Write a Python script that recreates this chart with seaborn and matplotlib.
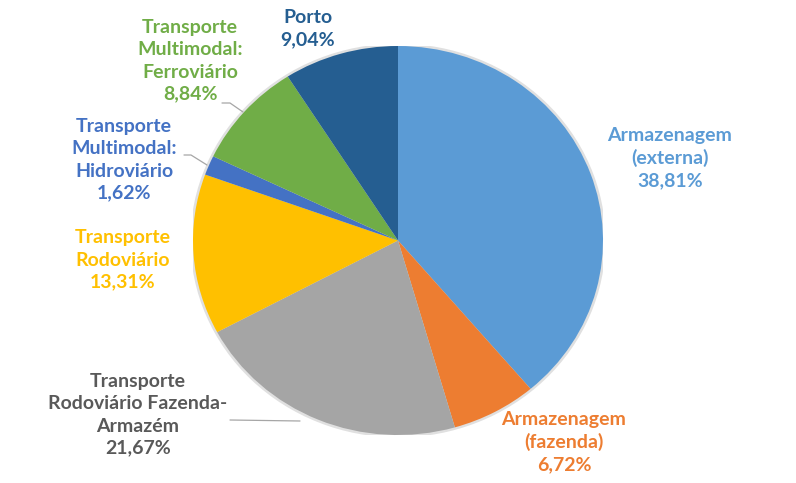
import matplotlib
matplotlib.use("Agg")
import matplotlib.pyplot as plt
import seaborn as sns
from matplotlib.patches import Ellipse

# data
categories = [
    "Armazenagem\n(externa)",
    "Armazenagem\n(fazenda)",
    "Transporte\nRodoviário Fazenda-\nArmazém",
    "Transporte\nRodoviário",
    "Transporte\nMultimodal:\nHidroviário",
    "Transporte\nMultimodal:\nFerroviário",
    "Porto",
]
shares = [38.81, 6.72, 21.67, 13.31, 1.62, 8.84, 9.04]
pct_labels = ["38,81%", "6,72%", "21,67%", "13,31%", "1,62%", "8,84%", "9,04%"]

colors = ["#5B9BD5", "#ED7D31", "#A5A5A5", "#FFC000", "#4472C4", "#70AD47", "#255E91"]
text_colors = ["#5B9BD5", "#ED7D31", "#595959", "#FFC000", "#4472C4", "#70AD47", "#255E91"]

# label centres in pixel coords of the 796x483 image
label_px = [(670, 158), (564, 442), (138, 415), (123, 260), (124, 160), (190, 61), (308, 29)]

sns.set_theme(style="white")
plt.rcParams["font.family"] = ["Lato", "DejaVu Sans"]

W, H = 796, 483
fig = plt.figure(figsize=(W / 100, H / 100), dpi=100)

# pie bounding box (pixels): x 193-603, y 46-435
cx, cy, rx, ry = 398, 240.5, 205, 194.5
ax = fig.add_axes([(cx - rx) / W, (H - cy - ry) / H, 2 * rx / W, 2 * ry / H])


def to_data(px, py):
    return (px - cx) / rx, (cy - py) / ry


# soft outline shadow
ax.add_patch(Ellipse((0, 0), 2.025, 2.025, facecolor="#e0e0e0", edgecolor="none", zorder=0))

ax.pie(shares, colors=colors, startangle=90, counterclock=False,
       wedgeprops=dict(linewidth=0), radius=1.0)
ax.set_aspect("auto")
ax.set_xlim(-1, 1)
ax.set_ylim(-1, 1)
ax.axis("off")

for cat, pct, col, (px, py) in zip(categories, pct_labels, text_colors, label_px):
    x, y = to_data(px, py)
    ax.text(x, y, cat + "\n" + pct, ha="center", va="center", color=col,
            fontsize=14, fontweight="bold", linespacing=1.36, clip_on=False)

# leader lines
leaders = [
    [(222, 103), (230, 103), (243, 112)],
    [(184, 155), (191, 155), (207, 165)],
    [(230, 420), (300, 421)],
]
for pts in leaders:
    xs, ys = zip(*[to_data(p, q) for p, q in pts])
    ax.plot(xs, ys, color="#a6a6a6", lw=0.9, clip_on=False, zorder=5)

fig.savefig("out.png", dpi=100)
